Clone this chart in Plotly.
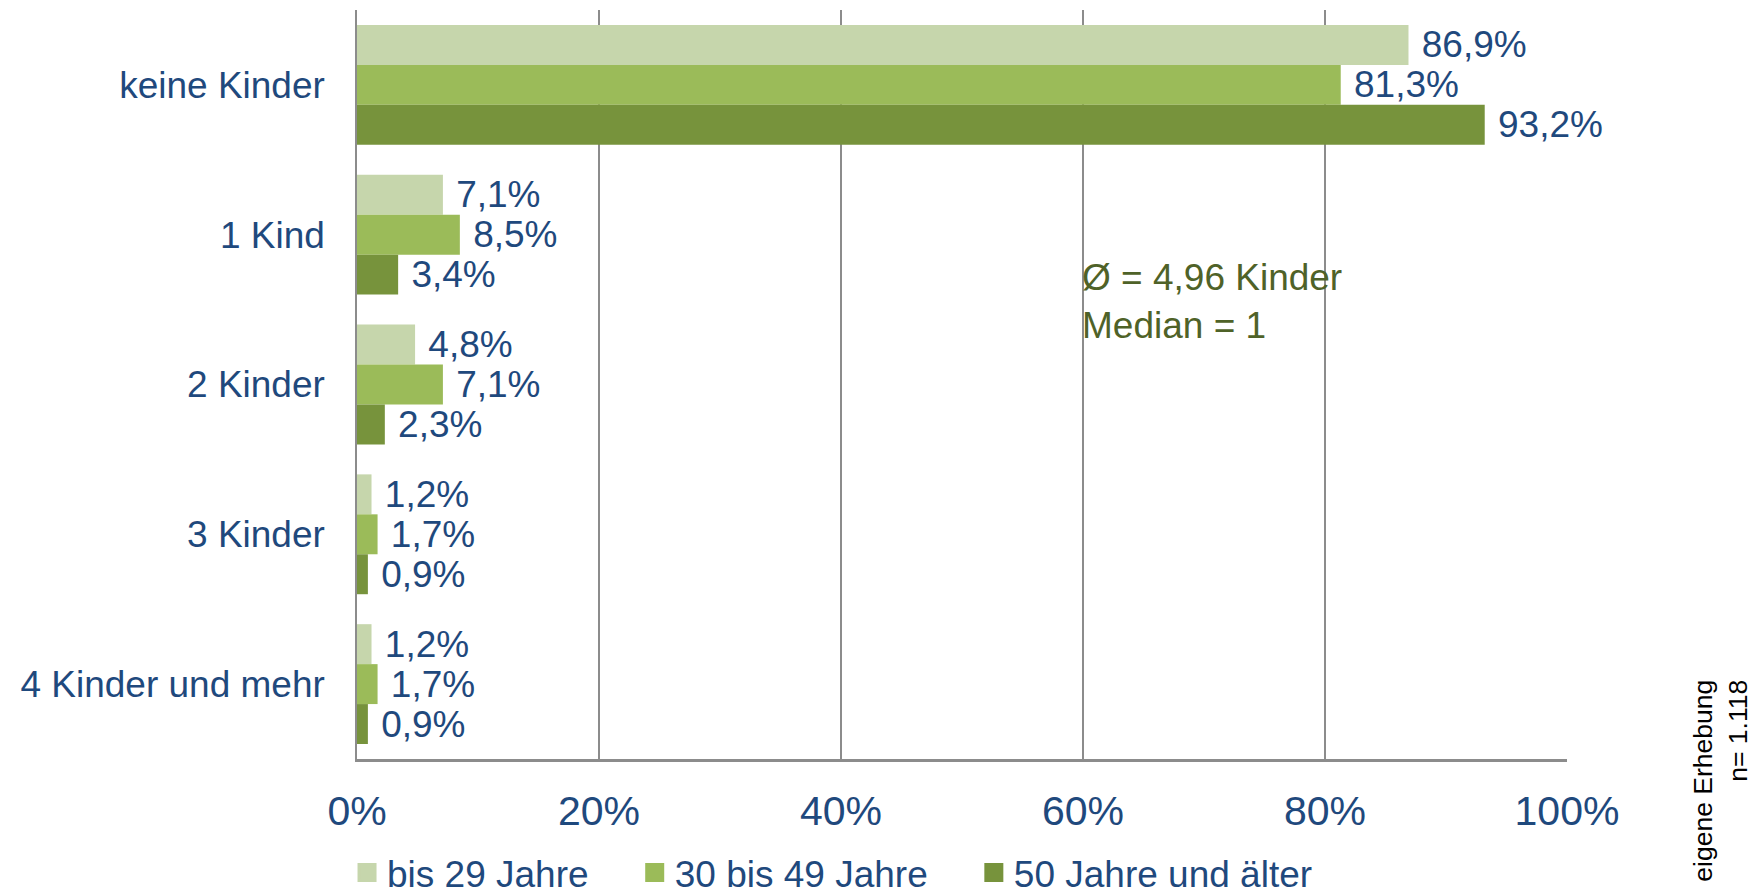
import plotly.graph_objects as go

categories = ["keine Kinder", "1 Kind", "2 Kinder", "3 Kinder", "4 Kinder und mehr"]
series_names = ["bis 29 Jahre", "30 bis 49 Jahre", "50 Jahre und älter"]
legend_pad = [4, 4, 0]  # trailing spacing of legend entries (number of no-break spaces)
vals_bis29 = [86.9, 7.1, 4.8, 1.2, 1.2]
vals_30_49 = [81.3, 8.5, 7.1, 1.7, 1.7]
vals_50plus = [93.2, 3.4, 2.3, 0.9, 0.9]
tick_vals = [0, 20, 40, 60, 80, 100]
tick_text = ["0%", "20%", "40%", "60%", "80%", "100%"]

colors = ["#C6D6AC", "#9BBB59", "#77933C"]
blue = "#1F497D"
FONT = "Liberation Sans, Arial, sans-serif"

fig = go.Figure()
for name, vals, col in zip(series_names, [vals_bis29, vals_30_49, vals_50plus], colors):
    fig.add_trace(go.Bar(
        y=categories, x=vals, name=name, orientation="h",
        marker=dict(color=col, line=dict(width=0)),
        text=[" " + f"{v:.1f}".replace(".", ",") + "%" for v in vals],
        textposition="outside", constraintext="none", cliponaxis=False,
        textfont=dict(family=FONT, size=37, color=blue),
        hoverinfo="skip", showlegend=False, legendgroup=name,
    ))

# legend entries with larger square swatches
for name, col, pad in zip(series_names, colors, legend_pad):
    fig.add_trace(go.Scatter(
        x=[None], y=[None], mode="markers", name=name + "\u00a0" * pad,
        marker=dict(symbol="square", size=16, color=col, line=dict(color=col, width=3)),
        legendgroup=name, showlegend=True, hoverinfo="skip",
    ))

fig.update_layout(
    width=1763, height=896,
    margin=dict(l=349, r=204, t=2, b=145),
    paper_bgcolor="white", plot_bgcolor="white",
    barmode="group", bargap=0.2, bargroupgap=0,
    font=dict(family=FONT, color=blue),
    showlegend=True,
    legend=dict(orientation="h", xref="container", x=0.1923, xanchor="left",
                yref="container", y=-0.004, yanchor="bottom",
                font=dict(family=FONT, size=37, color=blue), traceorder="normal",
                itemsizing="trace", bgcolor="rgba(0,0,0,0)"),
    xaxis=dict(range=[0, 100], tickvals=tick_vals, ticktext=tick_text,
               showgrid=True, gridcolor="#8C8C8C", gridwidth=1.5,
               showline=True, linecolor="#8C8C8C", linewidth=2.5,
               zeroline=False, ticks="", ticklabelstandoff=14,
               tickfont=dict(family=FONT, size=41, color=blue), fixedrange=True),
    yaxis=dict(autorange="reversed", showgrid=False, zeroline=False,
               showline=True, linecolor="#8C8C8C", linewidth=1.5,
               ticks="", ticklabelstandoff=23,
               tickfont=dict(family=FONT, size=37, color=blue), fixedrange=True),
)

fig.add_annotation(
    x=60, xref="x", y=0.611, yref="paper", xanchor="left", yanchor="middle", xshift=-3,
    text="Ø = 4,96 Kinder<br>Median = 1", align="left", showarrow=False,
    font=dict(family=FONT, size=37, color="#4F6228"),
)
fig.add_annotation(
    x=1.1264, xref="paper", y=-0.029, yref="paper", xanchor="center", yanchor="middle",
    text="eigene Erhebung<br>n= 1.118", align="right", textangle=-90, showarrow=False,
    font=dict(family=FONT, size=26.5, color="black"),
)

fig.write_html("out.html")
